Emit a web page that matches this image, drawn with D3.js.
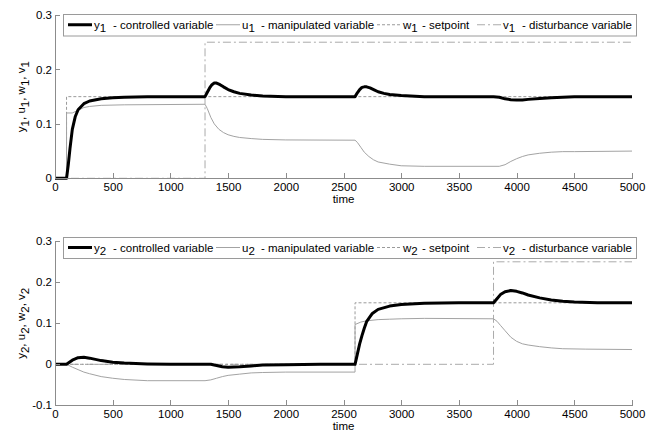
<!DOCTYPE html>
<html>
<head>
<meta charset="utf-8">
<script src="https://cdn.jsdelivr.net/npm/d3@7"></script>
<style>
  body { margin: 0; background: #fff; }
  svg { display: block; font-family: "Liberation Sans", Arial, sans-serif; }
  .axis path, .axis line { stroke: #8c8c8c; shape-rendering: crispEdges; }
  .axis text { fill: #000; font-size: 11.5px; }
</style>
</head>
<body>
<svg id="chart"></svg>
<script>
(function() {
  /* Data: top panel (loop 1) */
  var y1Time = [0, 100, 115, 130, 150, 175, 200, 250, 300, 400, 500, 600, 800, 1300, 1320, 1340, 1360, 1380, 1400, 1430, 1460, 1500, 1550, 1600, 1700, 1800, 2000, 2600, 2620, 2640, 2660, 2680, 2700, 2730, 2770, 2800, 2850, 2900, 3000, 3200, 3800, 3850, 3900, 3950, 4000, 4050, 4100, 4200, 4300, 4400, 4500, 5000];
  var y1Values = [0, 0, 0.025, 0.055, 0.09, 0.113, 0.126, 0.137, 0.142, 0.146, 0.148, 0.149, 0.15, 0.15, 0.158, 0.166, 0.172, 0.175, 0.175, 0.172, 0.168, 0.163, 0.159, 0.156, 0.153, 0.151, 0.15, 0.15, 0.157, 0.163, 0.167, 0.168, 0.168, 0.166, 0.162, 0.159, 0.156, 0.154, 0.152, 0.15, 0.15, 0.149, 0.146, 0.1445, 0.144, 0.144, 0.145, 0.1465, 0.148, 0.149, 0.15, 0.15];
  var u1Time = [0, 100, 100, 150, 200, 250, 300, 400, 600, 1300, 1320, 1350, 1380, 1420, 1460, 1500, 1550, 1600, 1700, 1800, 2000, 2600, 2620, 2650, 2680, 2720, 2760, 2800, 2900, 3000, 3200, 3850, 3900, 3950, 4000, 4050, 4100, 4200, 4300, 4400, 4500, 5000];
  var u1Values = [0, 0, 0.12, 0.12, 0.125, 0.13, 0.132, 0.134, 0.135, 0.136, 0.128, 0.112, 0.1, 0.09, 0.084, 0.08, 0.077, 0.075, 0.073, 0.0715, 0.0705, 0.07, 0.066, 0.057, 0.048, 0.04, 0.034, 0.03, 0.026, 0.023, 0.022, 0.022, 0.025, 0.031, 0.036, 0.04, 0.043, 0.046, 0.048, 0.049, 0.049, 0.05];
  var w1Time = [0, 100, 100, 5000];
  var w1Values = [0, 0, 0.15, 0.15];
  var v1Time = [0, 1300, 1300, 5000];
  var v1Values = [0, 0, 0.25, 0.25];

  /* Data: bottom panel (loop 2) */
  var y2Time = [0, 100, 150, 200, 250, 300, 400, 500, 600, 800, 1000, 1350, 1400, 1450, 1500, 1600, 1700, 1800, 2000, 2300, 2600, 2620, 2640, 2660, 2680, 2700, 2750, 2800, 2900, 3000, 3200, 3500, 3800, 3830, 3860, 3900, 3950, 4000, 4050, 4100, 4200, 4300, 4400, 4500, 4700, 5000];
  var y2Values = [0, 0, 0.01, 0.016, 0.017, 0.015, 0.009, 0.005, 0.003, 0.001, 0, 0, -0.003, -0.006, -0.007, -0.006, -0.004, -0.002, -0.001, 0, 0, 0.025, 0.05, 0.07, 0.088, 0.104, 0.124, 0.134, 0.142, 0.146, 0.149, 0.15, 0.15, 0.16, 0.17, 0.177, 0.18, 0.178, 0.174, 0.169, 0.162, 0.157, 0.154, 0.152, 0.15, 0.15];
  var u2Time = [0, 100, 150, 200, 250, 300, 400, 500, 600, 800, 1300, 1350, 1400, 1450, 1500, 1600, 1700, 1800, 2000, 2600, 2600, 2650, 2700, 2800, 2900, 3000, 3200, 3800, 3830, 3860, 3900, 3950, 4000, 4050, 4100, 4200, 4300, 4400, 4600, 5000];
  var u2Values = [0, 0, -0.007, -0.013, -0.019, -0.023, -0.03, -0.034, -0.037, -0.04, -0.04, -0.038, -0.034, -0.03, -0.027, -0.024, -0.021, -0.02, -0.019, -0.019, 0.097, 0.103, 0.106, 0.109, 0.11, 0.111, 0.112, 0.111, 0.105, 0.095, 0.082, 0.066, 0.056, 0.05, 0.047, 0.043, 0.04, 0.038, 0.037, 0.036];
  var w2Time = [0, 2600, 2600, 5000];
  var w2Values = [0, 0, 0.15, 0.15];
  var v2Time = [0, 3800, 3800, 5000];
  var v2Values = [0, 0, 0.25, 0.25];

  /* Axes ticks and legend text */
  var timeTicks = [0, 500, 1000, 1500, 2000, 2500, 3000, 3500, 4000, 4500, 5000];
  var topTicks = [0, 0.1, 0.2, 0.3];
  var bottomTicks = [-0.1, 0, 0.1, 0.2, 0.3];
  var legendSymbols = ["y", "u", "w", "v"];
  var legendTexts = ["- controlled variable", "- manipulated variable", "- setpoint", "- disturbance variable"];

  /* SVG properties */
  var width = 656;
  var height = 431;
  var left = 55, right = 632;

  var svg = d3.select("#chart").attr("width", width).attr("height", height);

  var x = d3.scaleLinear().domain([0, 5000]).range([left, right]);

  // line styles per variable: y, u, w, v
  var styles = [
    { stroke: "#000", width: 3, dash: null },
    { stroke: "#a3a3a3", width: 1, dash: null },
    { stroke: "#9a9a9a", width: 1, dash: "3,2" },
    { stroke: "#ababab", width: 1, dash: "8,3,2,3" }
  ];

  var panels = [
    { idx: "1", top: 15, bottom: 178.3, domain: [0, 0.3], ticks: topTicks, legendTop: 14.5, legendH: 21.5,
      series: [[y1Time, y1Values], [u1Time, u1Values], [w1Time, w1Values], [v1Time, v1Values]] },
    { idx: "2", top: 241.3, bottom: 405.3, domain: [-0.1, 0.3], ticks: bottomTicks, legendTop: 237.5, legendH: 21,
      series: [[y2Time, y2Values], [u2Time, u2Values], [w2Time, w2Values], [v2Time, v2Values]] }
  ];

  // legend entry offsets from box left (layout)
  var legendOffsets = [5, 153, 314, 414];

  panels.forEach(function(p) {
    var y = d3.scaleLinear().domain(p.domain).range([p.bottom, p.top]);
    var g = svg.append("g");

    // series, drawn back to front: v, w, u, y
    var line = d3.line()
                 .x(function(d) { return x(d[0]); })
                 .y(function(d) { return y(d[1]); });
    [3, 2, 1, 0].forEach(function(k) {
      var s = p.series[k];
      var pts = s[0].map(function(t, i) { return [t, s[1][i]]; });
      g.append("path")
       .datum(pts)
       .attr("d", line)
       .attr("fill", "none")
       .attr("stroke", styles[k].stroke)
       .attr("stroke-width", styles[k].width)
       .attr("stroke-dasharray", styles[k].dash)
       .attr("stroke-linejoin", "round");
    });

    // axes
    g.append("g")
     .attr("class", "axis")
     .attr("transform", "translate(0," + p.bottom + ")")
     .call(d3.axisBottom(x).tickValues(timeTicks).tickSizeInner(-5).tickSizeOuter(0).tickPadding(5).tickFormat(d3.format("d")))
     .call(function(a) { a.selectAll("text").attr("font-family", null); });
    g.append("g")
     .attr("class", "axis")
     .attr("transform", "translate(" + left + ",0)")
     .call(d3.axisLeft(y).tickValues(p.ticks).tickSizeInner(-5).tickSizeOuter(0).tickPadding(3).tickFormat(function(d) { return d === 0 ? "0" : String(d); }));
    g.selectAll(".axis").attr("font-family", null).attr("font-size", null);

    // x label
    g.append("text")
     .attr("x", (left + right) / 2)
     .attr("y", p.bottom + 24.7)
     .attr("text-anchor", "middle")
     .attr("font-size", "11.5px")
     .text("time");

    // y label with subscripts
    var yl = g.append("text")
              .attr("transform", "translate(25," + ((p.top + p.bottom) / 2) + ") rotate(-90)")
              .attr("text-anchor", "middle")
              .attr("font-size", "11.5px");
    ["y", "u", "w", "v"].forEach(function(s, i) {
      yl.append("tspan").attr("dy", i === 0 ? 0 : -3.5).text((i === 0 ? "" : ", ") + s);
      yl.append("tspan").attr("dy", 3.5).text(p.idx);
    });

    // legend
    var boxX = 63, boxW = 573;
    var lg = g.append("g");
    lg.append("rect")
      .attr("x", boxX + 0.5).attr("y", p.legendTop)
      .attr("width", boxW).attr("height", p.legendH)
      .attr("fill", "#fff")
      .attr("stroke", "#9a9a9a");
    var midY = p.legendTop + p.legendH / 2 - 0.5;
    legendSymbols.forEach(function(s, i) {
      var x0 = boxX + legendOffsets[i];
      lg.append("line")
        .attr("x1", x0).attr("x2", x0 + 24)
        .attr("y1", midY).attr("y2", midY)
        .attr("stroke", styles[i].stroke)
        .attr("stroke-width", styles[i].width)
        .attr("stroke-dasharray", styles[i].dash);
      var t = lg.append("text")
                .attr("x", x0 + 26)
                .attr("y", midY + 4)
                .attr("font-size", "11.5px");
      t.append("tspan").text(s);
      t.append("tspan").attr("dy", 3.5).text(p.idx);
      lg.append("text")
        .attr("x", x0 + 45)
        .attr("y", midY + 4)
        .attr("font-size", "11.5px")
        .text(legendTexts[i]);
    });
  });
})();
</script>
</body>
</html>
